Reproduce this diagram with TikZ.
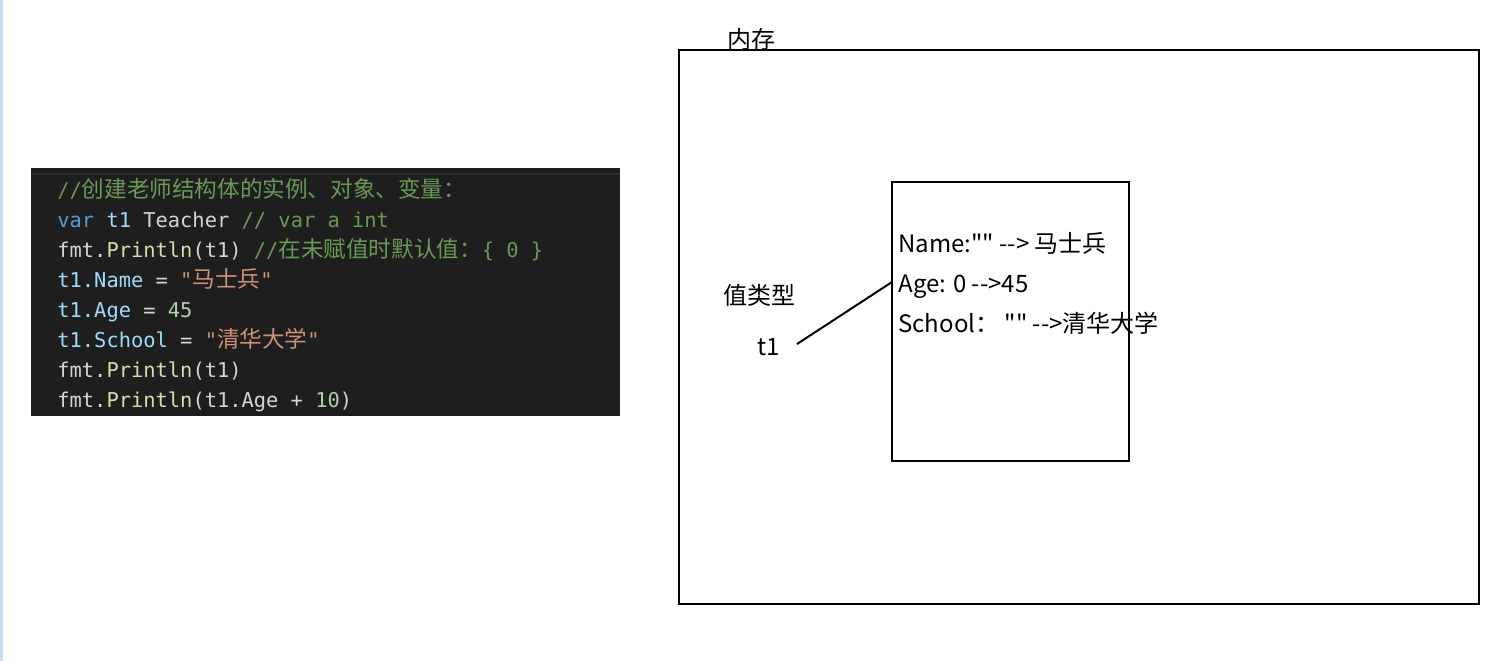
\documentclass[tikz,border=0pt]{standalone}
\usepackage{fontspec}
\usepackage{xcolor}
\usepackage{tikz}
\usetikzlibrary{positioning}
\newfontfamily\cjk{Noto Sans CJK SC}
\newfontfamily\codefont{DejaVu Sans Mono}
\newcommand{\zh}[1]{{\cjk\fontsize{11.3}{12}\selectfont #1}}
\definecolor{codebg}{HTML}{1E1E1E}
\definecolor{codeline}{HTML}{2D2D2D}
\definecolor{cmt}{HTML}{6A9955}
\definecolor{kw}{HTML}{569CD6}
\definecolor{fld}{HTML}{9CDCFE}
\definecolor{fn}{HTML}{DCDCAA}
\definecolor{str}{HTML}{CE9178}
\definecolor{num}{HTML}{B5CEA8}
\definecolor{plain}{HTML}{D4D4D4}
\definecolor{edge}{HTML}{C8DAF8}

\begin{document}
\begin{tikzpicture}[
    x=0.5pt, y=-0.5pt,
    code/.style={anchor=base west, inner sep=0pt, text=plain, font=\codefont\fontsize{10.2}{12}\selectfont},
    memtext/.style={anchor=base west, inner sep=0pt, font=\cjk\fontsize{12}{14}\selectfont},
    box/.style={draw, line width=1pt}
]
\useasboundingbox (0,0) rectangle (1509,661);
\fill[edge] (0,0) rectangle (3,661);

% code panel
\fill[codebg] (31,168) rectangle (620,416);
\draw[codeline, line width=1pt] (31,174) -- (620,174);
\node[code] (c1) at (57,197) {\color{cmt}//\zh{创建老师结构体的实例、对象、变量：}};
\node[code] (c2) at (57,227) {\color{kw}var \color{fld}t1 \color{plain}Teacher \color{cmt}// var a int};
\node[code] (c3) at (57,257) {fmt.\color{fn}Println\color{plain}(t1) \color{cmt}//\zh{在未赋值时默认值：}\{ 0 \}};
\node[code] (c4) at (57,287) {\color{fld}t1.Name \color{plain}= \color{str}"\zh{马士兵}"};
\node[code] (c5) at (57,317) {\color{fld}t1.Age \color{plain}= \color{num}45};
\node[code] (c6) at (57,347) {\color{fld}t1.School \color{plain}= \color{str}"\zh{清华大学}"};
\node[code] (c7) at (57,377) {fmt.\color{fn}Println\color{plain}(t1)};
\node[code] (c8) at (57,407) {fmt.\color{fn}Println\color{plain}(t1.Age + \color{num}10\color{plain})};

% memory
\draw[box] (679,50) rectangle (1479,604);
\node[memtext] (mem) at (727,48) {内存};
\draw[box] (892,182) rectangle (1129,461);
\node[memtext] (name) at (898,252) {Name:"" --> 马士兵};
\node[memtext] (age) at (898,292) {Age: 0 -->45};
\node[memtext] (school) at (898,332) {School： "" -->清华大学};
\node[memtext] (kind) at (723,304) {值类型};
\node[memtext] (t1) at (757,355) {t1};
\coordinate (ptr) at (797,344);
\draw[line width=1pt] (ptr) -- (892,282);
\end{tikzpicture}
\end{document}
